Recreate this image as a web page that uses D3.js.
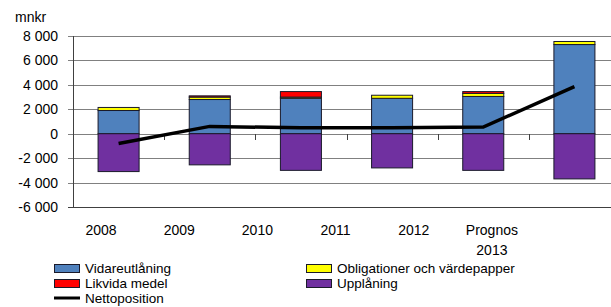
<!DOCTYPE html>
<html>
<head>
<meta charset="utf-8">
<script src="https://cdn.jsdelivr.net/npm/d3@7"></script>
<style>
    body { margin: 0; background: #fff; }
    svg { display: block; font-family: 'Liberation Sans', Arial, sans-serif; }
</style>
</head>
<body>
<div class="chart"></div>
<script>
// ------------------------------------------------------
const plotWidth = 611;
const plotHeight = 307;
const categories = [ '2008', '2009', '2010', '2011', '2012', 'Prognos 2013' ];
const vidareutlaning = [ 1900, 2800, 2900, 2900, 3050, 7300 ];
const obligationer = [ 250, 200, 100, 250, 250, 250 ];
const likvida = [ 0, 100, 450, 0, 150, 0 ];
const upplaning = [ -3100, -2550, -3000, -2800, -3000, -3700 ];
const nettoposition = [ -800, 600, 480, 480, 550, 3850 ];
const yTicks = [ -6000, -4000, -2000, 0, 2000, 4000, 6000, 8000 ];
// ------------------------------------------------------
const colors = {
    blue: '#4f81bd',
    yellow: '#ffff00',
    red: '#ff0000',
    purple: '#7030a0'
};
const fmt = function ( v ) {
    return d3.format( ',' )( v ).replace( /,/g, ' ' ).replace( '\u2212', '-' );
};
// ------------------------------------------------------
window.addEventListener( 'load', function () {
    // --------------------------------------------------
    let svg = d3.select( '.chart' )
        .append( 'svg' )
        .attr( 'width', plotWidth )
        .attr( 'height', plotHeight );
    // --------------------------------------------------
    let x = d3.scaleBand()
        .domain( categories )
        .range( [ 73, 620 ] )
        .paddingInner( 0.55 )
        .paddingOuter( 0.275 );
    let xLabel = d3.scaleBand()
        .domain( categories )
        .range( [ 62, 531 ] );
    let y = d3.scaleLinear()
        .domain( [ -6000, 8000 ] )
        .range( [ 207, 36 ] );
    // --------------------------------------------------
    // gridlines
    svg.append( 'g' )
        .selectAll( 'line' )
        .data( yTicks )
        .enter()
        .append( 'line' )
        .attr( 'x1', 68 )
        .attr( 'x2', plotWidth )
        .attr( 'y1', function ( d ) { return Math.round( y( d ) ) + 0.5; } )
        .attr( 'y2', function ( d ) { return Math.round( y( d ) ) + 0.5; } )
        .attr( 'stroke', function ( d ) { return d === -6000 ? '#404040' : '#808080'; } )
        .attr( 'stroke-width', 1 );
    // --------------------------------------------------
    // y axis labels
    svg.append( 'g' )
        .selectAll( 'text' )
        .data( yTicks )
        .enter()
        .append( 'text' )
        .attr( 'x', 58 )
        .attr( 'y', function ( d ) { return y( d ) + 5; } )
        .attr( 'text-anchor', 'end' )
        .attr( 'font-size', '14px' )
        .attr( 'fill', '#000' )
        .text( fmt );
    svg.append( 'text' )
        .attr( 'x', 15 )
        .attr( 'y', 22 )
        .attr( 'font-size', '14px' )
        .text( 'mnkr' );
    // --------------------------------------------------
    // stacked bars
    let segments = [];
    categories.forEach( function ( c, i ) {
        let b0 = 0;
        [ [ vidareutlaning[i], colors.blue ], [ obligationer[i], colors.yellow ], [ likvida[i], colors.red ] ]
            .forEach( function ( s ) {
                if ( s[0] > 0 ) {
                    segments.push( { cat: c, y0: b0, y1: b0 + s[0], color: s[1] } );
                }
                b0 += s[0];
            });
        segments.push( { cat: c, y0: upplaning[i], y1: 0, color: colors.purple } );
    });
    svg.append( 'g' )
        .selectAll( 'rect' )
        .data( segments )
        .enter()
        .append( 'rect' )
        .attr( 'x', function ( d ) { return x( d.cat ); } )
        .attr( 'width', x.bandwidth() )
        .attr( 'y', function ( d ) { return y( d.y1 ); } )
        .attr( 'height', function ( d ) { return y( d.y0 ) - y( d.y1 ); } )
        .attr( 'fill', function ( d ) { return d.color; } )
        .attr( 'stroke', '#1a1a2a' )
        .attr( 'stroke-width', 1 );
    // --------------------------------------------------
    // axes lines and ticks
    svg.append( 'line' )
        .attr( 'x1', 73.5 ).attr( 'x2', 73.5 )
        .attr( 'y1', y( 8000 ) ).attr( 'y2', y( -6000 ) + 1 )
        .attr( 'stroke', '#404040' );
    svg.append( 'g' )
        .selectAll( 'line' )
        .data( categories.slice( 1 ) )
        .enter()
        .append( 'line' )
        .attr( 'x1', function ( d ) { return Math.round( x( d ) - x.step() * x.paddingInner() / 2 ) + 0.5; } )
        .attr( 'x2', function ( d ) { return Math.round( x( d ) - x.step() * x.paddingInner() / 2 ) + 0.5; } )
        .attr( 'y1', Math.round( y( 0 ) ) )
        .attr( 'y2', Math.round( y( 0 ) ) + 6 )
        .attr( 'stroke', '#404040' );
    // --------------------------------------------------
    // net position line
    let line = d3.line()
        .x( function ( d, i ) { return x( categories[i] ) + x.bandwidth() / 2; } )
        .y( function ( d ) { return y( d ); } );
    svg.append( 'path' )
        .datum( nettoposition )
        .attr( 'd', line )
        .attr( 'fill', 'none' )
        .attr( 'stroke', '#000' )
        .attr( 'stroke-width', 3.5 );
    // --------------------------------------------------
    // category labels
    let labels = svg.append( 'g' )
        .selectAll( 'text' )
        .data( categories )
        .enter()
        .append( 'text' )
        .attr( 'x', function ( d ) { return xLabel( d ) + xLabel.bandwidth() / 2; } )
        .attr( 'y', 235 )
        .attr( 'text-anchor', 'middle' )
        .attr( 'font-size', '14px' );
    labels.each( function ( d ) {
        let parts = d.split( ' ' );
        let t = d3.select( this );
        parts.forEach( function ( p, k ) {
            t.append( 'tspan' )
                .attr( 'x', xLabel( d ) + xLabel.bandwidth() / 2 )
                .attr( 'dy', k === 0 ? 0 : 20 )
                .text( p );
        });
    });
    // --------------------------------------------------
    // legend
    const legendItems = [
        { label: 'Vidareutlåning', color: colors.blue, x: 54, y: 273 },
        { label: 'Obligationer och värdepapper', color: colors.yellow, x: 306, y: 273 },
        { label: 'Likvida medel', color: colors.red, x: 54, y: 288 }, 
        { label: 'Upplåning', color: colors.purple, x: 306, y: 288 }
    ];
    let legend = svg.append( 'g' );
    legend.selectAll( 'rect' )
        .data( legendItems )
        .enter()
        .append( 'rect' )
        .attr( 'x', function ( d ) { return d.x + 0.5; } )
        .attr( 'y', function ( d ) { return d.y - 8.5; } )
        .attr( 'width', 25 )
        .attr( 'height', 8 )
        .attr( 'fill', function ( d ) { return d.color; } )
        .attr( 'stroke', '#1a1a2a' );
    legend.selectAll( 'text' )
        .data( legendItems )
        .enter()
        .append( 'text' )
        .attr( 'x', function ( d ) { return d.x + 31; } )
        .attr( 'y', function ( d ) { return d.y; } )
        .attr( 'font-size', '13.5px' )
        .text( function ( d ) { return d.label; } );
    legend.append( 'line' )
        .attr( 'x1', 54 ).attr( 'x2', 80 )
        .attr( 'y1', 298 ).attr( 'y2', 298 )
        .attr( 'stroke', '#000' )
        .attr( 'stroke-width', 3 );
    legend.append( 'text' )
        .attr( 'x', 85 )
        .attr( 'y', 303 )
        .attr( 'font-size', '13.5px' )
        .text( 'Nettoposition' );
}, false );
</script>
</body>
</html>
